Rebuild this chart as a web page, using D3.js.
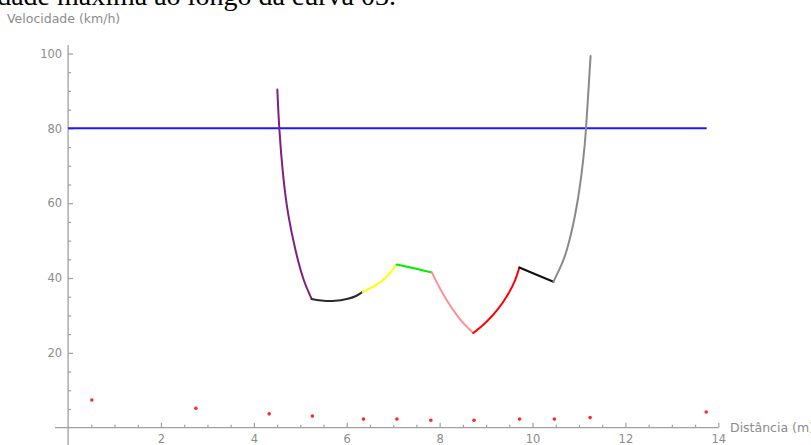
<!DOCTYPE html>
<html>
<head>
<meta charset="utf-8">
<script src="https://cdn.jsdelivr.net/npm/d3@7"></script>
<style>
    body { margin: 0; background: #fff; overflow: hidden; }
    svg { display: block; }
</style>
</head>
<body>
<div id="chart"></div>
<script>
// speed limit (blue line)
const limitSpeed = 80;
const limitEnd = 13.75;

// red points along the bottom
const dotDist = [0.51, 2.75, 4.33, 5.26, 6.36, 7.08, 7.81, 8.74, 9.72, 10.47, 11.24, 13.74];
const dotSpeed = [7.4, 5.2, 3.7, 3.1, 2.3, 2.3, 2.0, 2.0, 2.3, 2.3, 2.7, 4.2];

// speed profile, one piece per colour [distance, speed]
const segPurple = [[4.505, 90.4], [4.55, 79.6], [4.63, 67.5], [4.74, 57.0], [4.89, 47.8], [5.065, 39.8], [5.245, 34.4]];
const segBlack1 = [[5.245, 34.4], [5.5, 33.9], [5.75, 33.9], [6.0, 34.4], [6.2, 35.2], [6.34, 36.3]];
const segYellow = [[6.34, 36.3], [6.6, 37.9], [6.85, 40.2], [7.076, 43.6]];
const segGreen = [[7.076, 43.6], [7.45, 42.6], [7.83, 41.5]];
const segPink = [[7.83, 41.5], [7.97, 38.1], [8.15, 34.1], [8.37, 30.1], [8.55, 27.4], [8.725, 25.3]];
const segRed = [[8.725, 25.3], [9.0, 28.2], [9.25, 31.6], [9.47, 35.6], [9.63, 39.6], [9.716, 42.8]];
const segBlack2 = [[9.716, 42.8], [10.1, 40.8], [10.45, 39.0]];
const segGray = [[10.45, 39.0], [10.6, 42.9], [10.75, 48.0], [10.95, 59.1], [11.09, 71.5], [11.15, 79.7], [11.20, 89.4], [11.25, 99.3]];

const segments = [segPurple, segBlack1, segYellow, segGreen, segPink, segRed, segBlack2, segGray];
const segColors = ["#7f1f84", "#2b2b2b", "#ffff00", "#00ee00", "#ff9090", "#ff0000", "#111111", "#8a8a8a"];

const xMajor = [2, 4, 6, 8, 10, 12, 14];
const yMajor = [20, 40, 60, 80, 100];

const W = 811, H = 445;

const svg = d3.select("#chart").append("svg")
    .attr("width", W)
    .attr("height", H);

const x = d3.scaleLinear().domain([0, 14]).range([68.1, 718.3]);
const y = d3.scaleLinear().domain([0, 100]).range([427.7, 53.5]);

const axisCol = "#a0a0a0";
const labelCol = "#8c8c8c";
const font = "DejaVu Sans, Verdana, sans-serif";

// cut-off caption from the page above
svg.append("text")
    .attr("x", 396).attr("y", 5)
    .attr("text-anchor", "end")
    .style("font-family", "Liberation Serif, Times New Roman, serif")
    .style("font-size", "28px")
    .attr("fill", "#000")
    .text("velocidade máxima ao longo da curva 03.");

// axes
let xMinor = d3.range(0.5, 14, 0.5).filter(d => d % 2 !== 0);
let yMinor = d3.range(5, 101, 5).filter(d => d % 20 !== 0);

svg.append("line")
    .attr("x1", 55).attr("x2", x(14))
    .attr("y1", y(0)).attr("y2", y(0))
    .attr("stroke", axisCol).attr("stroke-width", 1.3);
svg.append("line")
    .attr("x1", x(0)).attr("x2", x(0))
    .attr("y1", 45).attr("y2", H)
    .attr("stroke", axisCol).attr("stroke-width", 1.3);

let xAxis = svg.append("g")
    .attr("transform", "translate(0," + y(0) + ")")
    .call(d3.axisBottom(x).tickValues(xMajor).tickSize(-5).tickPadding(8).tickFormat(d3.format("d")));
let xAxisMinor = svg.append("g")
    .attr("transform", "translate(0," + y(0) + ")")
    .call(d3.axisBottom(x).tickValues(xMinor).tickSize(-3).tickFormat(""));
let yAxis = svg.append("g")
    .attr("transform", "translate(" + x(0) + ",0)")
    .call(d3.axisLeft(y).tickValues(yMajor).tickSize(-5).tickPadding(6).tickFormat(d3.format("d")));
let yAxisMinor = svg.append("g")
    .attr("transform", "translate(" + x(0) + ",0)")
    .call(d3.axisLeft(y).tickValues(yMinor).tickSize(-3).tickFormat(""));

[xAxis, xAxisMinor, yAxis, yAxisMinor].forEach(g => {
    g.select(".domain").remove();
    g.selectAll(".tick line").attr("stroke", axisCol).attr("stroke-width", 1.2);
    g.selectAll(".tick text")
        .attr("fill", labelCol)
        .style("font-family", font)
        .style("font-size", "11.5px");
});
xAxis.selectAll(".tick text").attr("dy", "0.6em");

// axis titles
svg.append("text")
    .attr("x", 7).attr("y", 23)
    .style("font-family", font).style("font-size", "12.5px")
    .attr("fill", labelCol)
    .text("Velocidade (km/h)");
svg.append("text")
    .attr("x", 730).attr("y", y(0) + 4)
    .style("font-family", font).style("font-size", "12.5px")
    .attr("fill", labelCol)
    .text("Distância (m)");

// speed limit
svg.append("line")
    .attr("x1", x(0)).attr("x2", x(limitEnd))
    .attr("y1", y(limitSpeed)).attr("y2", y(limitSpeed))
    .attr("stroke", "#1a1aff").attr("stroke-width", 2);

// profile
let line = d3.line()
    .x(d => x(d[0]))
    .y(d => y(d[1]))
    .curve(d3.curveNatural);

svg.append("g").selectAll("path")
    .data(segments)
    .enter().append("path")
    .attr("d", line)
    .attr("fill", "none")
    .attr("stroke", (d, i) => segColors[i])
    .attr("stroke-width", 2)
    .attr("stroke-linecap", "round");

// points
svg.append("g").selectAll("circle")
    .data(dotDist)
    .enter().append("circle")
    .attr("cx", d => x(d))
    .attr("cy", (d, i) => y(dotSpeed[i]))
    .attr("r", 1.8)
    .attr("fill", "#ff2a2a");
</script>
</body>
</html>
